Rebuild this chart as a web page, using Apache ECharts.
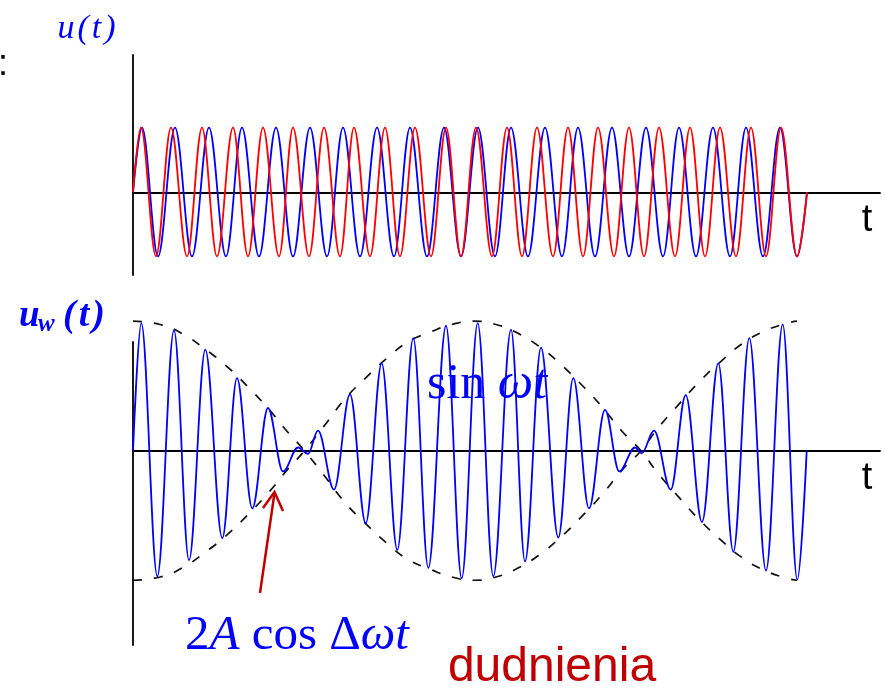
<!DOCTYPE html>
<html><head><meta charset="utf-8">
<script src="https://cdn.jsdelivr.net/npm/echarts@6/dist/echarts.min.js"></script>
<style>html,body{margin:0;padding:0;background:#fff;}#c{width:885px;height:691px;}</style>
</head><body><div id="c"></div>
<script>
// Time is measured from the vertical axis; amplitude in units of A.
// Top panel u(t): extrema (peaks / troughs).
const redT = [0, 8, 23, 38, 54, 69, 84, 100, 115, 130, 146, 160, 176, 191, 207, 221, 237, 252, 267, 282, 298, 313, 328, 343, 359, 374, 389, 404, 420, 435, 450, 465, 481, 496, 511, 526, 542, 557, 572, 587, 603, 618, 633, 648, 664, 674];
const redV = [0, 1, -0.99, 1, -0.99, 1, -0.99, 1, -0.99, 1, -0.99, 1, -0.99, 1, -0.99, 1, -0.99, 1, -0.99, 1, -0.99, 1, -0.99, 1, -0.99, 1, -0.99, 1, -0.99, 1, -0.99, 1, -0.99, 1, -0.99, 1, -0.99, 1, -0.99, 1, -0.99, 1, -0.99, 1, -0.99, 0];
const blueT = [0, 9, 25, 42, 59, 76, 93, 109, 126, 143, 160, 177, 194, 210, 227, 244, 261, 277, 294, 311, 328, 345, 362, 378, 395, 412, 429, 445, 462, 479, 496, 513, 530, 546, 563, 580, 597, 613, 630, 647, 664, 674];
const blueV = [0, 1, -0.99, 1, -0.99, 1, -0.99, 1, -0.99, 1, -0.99, 1, -0.99, 1, -0.99, 1, -0.99, 1, -0.99, 1, -0.99, 1, -0.99, 1, -0.99, 1, -0.99, 1, -0.99, 1, -0.99, 1, -0.99, 1, -0.99, 1, -0.99, 1, -0.99, 1, -0.99, 0];
// Bottom panel u_w(t): extrema
const beatT = [0, 8.3, 24.3, 41, 56, 72.3, 89.3, 104, 119.3, 135, 150, 165, 175, 185, 201, 217, 232.7, 248.7, 264.3, 280.3, 295.3, 313, 328.7, 344.7, 360.3, 378, 392, 408, 425.3, 440.3, 456, 472, 486.3, 502, 508.7, 521, 537.7, 552.7, 569, 585.3, 600.3, 616.3, 633, 649.7, 664.3, 673.7];
const beatV = [0, 1.97, -1.94, 1.86, -1.69, 1.56, -1.35, 1.12, -0.89, 0.66, -0.32, 0.05, -0.05, 0.31, -0.60, 0.87, -1.12, 1.35, -1.53, 1.74, -1.81, 1.93, -1.97, 1.97, -1.94, 1.87, -1.71, 1.59, -1.34, 1.12, -0.89, 0.63, -0.32, 0.05, -0.04, 0.31, -0.60, 0.86, -1.10, 1.35, -1.56, 1.74, -1.85, 1.95, -1.99, 0];
// Envelope 2A cos(Δω t)
const envT = [0, 27, 49, 72, 94, 116, 137, 154, 171.5, 191, 212, 233, 254, 275, 297, 319, 341, 363, 384, 407, 428, 451, 470, 489, 508, 525, 546, 566, 588, 610, 632, 654, 664];
const envV = [2.0, 1.95, 1.81, 1.57, 1.30, 0.97, 0.62, 0.30, 0, -0.38, -0.8, -1.13, -1.43, -1.68, -1.83, -1.95, -2.0, -1.95, -1.82, -1.6, -1.33, -0.98, -0.66, -0.30, 0, 0.35, 0.72, 1.06, 1.38, 1.66, 1.85, 1.97, 2.0];

const pairs = (t, v, s) => t.map((x, i) => [x, s * v[i]]);
const BLUE = '#0000ff', RED = '#ff0000', DARKRED = '#c00000';
const chart = echarts.init(document.getElementById('c'), null, {renderer: 'canvas'});
const axisCommon = {
  axisTick: {show: false}, axisLabel: {show: false}, splitLine: {show: false},
  axisLine: {show: true, onZero: true, lineStyle: {color: '#000', width: 1.8}}
};
const waveSeries = (name, data, color, xi) => ({
  name, type: 'line', xAxisIndex: xi, yAxisIndex: xi, data, showSymbol: false, symbol: 'none',
  smooth: 0.36, smoothMonotone: 'x', clip: false,
  lineStyle: {color, width: 1.8}, z: 3
});
const envSeries = (name, data) => ({
  name, type: 'line', xAxisIndex: 1, yAxisIndex: 1, data, showSymbol: false, symbol: 'none',
  smooth: 0.5, clip: false, lineStyle: {color: '#111', width: 1.7, type: [9, 12]}, z: 2
});
const serif = 'Liberation Serif';
const mathRich = (size, bold) => ({
  r: {fontFamily: serif, fontSize: size, fill: BLUE, fontWeight: bold ? 'bold' : 'normal'},
  i: {fontFamily: serif, fontSize: size, fontStyle: 'italic', fill: BLUE, fontWeight: bold ? 'bold' : 'normal'},
  p: {fontFamily: serif, fontSize: size, fontStyle: 'italic', fill: BLUE, fontWeight: bold ? 'bold' : 'normal', padding: [0, 3, 0, 3]}
});
chart.setOption({
  animation: false,
  backgroundColor: '#fff',
  grid: [
    {left: 133, top: 55, width: 747, height: 220},
    {left: 133, top: 342, width: 747, height: 303}
  ],
  xAxis: [
    Object.assign({type: 'value', gridIndex: 0, min: 0, max: 747}, axisCommon),
    Object.assign({type: 'value', gridIndex: 1, min: 0, max: 747}, axisCommon)
  ],
  yAxis: [
    Object.assign({type: 'value', gridIndex: 0, min: -1.277, max: 2.12}, axisCommon),
    Object.assign({type: 'value', gridIndex: 1, min: -3.0, max: 1.679}, axisCommon)
  ],
  series: [
    waveSeries('u2', pairs(blueT, blueV, 1), BLUE, 0),
    waveSeries('u1', pairs(redT, redV, 1), RED, 0),
    envSeries('env+', pairs(envT, envV, 1)),
    envSeries('env-', pairs(envT, envV, -1)),
    waveSeries('uw', pairs(beatT, beatV, 1), BLUE, 1)
  ],
  graphic: [
    {type: 'text', x: -2, y: 65, style: {text: ':', fontFamily: 'Liberation Sans', fontSize: 36, fill: '#000', align: 'left', verticalAlign: 'middle'}},
    {type: 'text', x: 88, y: 29, style: {text: '{i|u}{p|(}{i|t}{p|)}', fill: BLUE, fontSize: 34, fontFamily: serif, align: 'center', verticalAlign: 'middle', rich: mathRich(34, false)}},
    {type: 'text', x: 19, y: 316, style: {text: 'u', fontFamily: serif, fontStyle: 'italic', fontWeight: 'bold', fontSize: 37, fill: BLUE, align: 'left', verticalAlign: 'middle'}},
    {type: 'text', x: 38, y: 325, style: {text: 'w', fontFamily: serif, fontStyle: 'italic', fontWeight: 'bold', fontSize: 25, fill: BLUE, align: 'left', verticalAlign: 'middle'}},
    {type: 'text', x: 84, y: 316, style: {text: '{p|(}{i|t}{p|)}', fill: BLUE, fontSize: 38, fontFamily: serif, align: 'center', verticalAlign: 'middle', rich: mathRich(38, true)}},
    {type: 'text', x: 867, y: 221, style: {text: 't', fontFamily: 'Liberation Sans', fontSize: 38, fill: '#000', align: 'center', verticalAlign: 'middle'}},
    {type: 'text', x: 867, y: 479, style: {text: 't', fontFamily: 'Liberation Sans', fontSize: 38, fill: '#000', align: 'center', verticalAlign: 'middle'}},
    {type: 'text', x: 487, y: 385, style: {text: '{r|sin }{i|ωt}', fill: BLUE, fontSize: 50, fontFamily: serif, align: 'center', verticalAlign: 'middle', rich: mathRich(50, false)}},
    {type: 'text', x: 297, y: 636, style: {text: '{r|2}{i|A}{r| cos Δ}{i|ωt}', fill: BLUE, fontSize: 49, fontFamily: serif, align: 'center', verticalAlign: 'middle', rich: mathRich(49, false)}},
    {type: 'text', x: 552, y: 668, style: {text: 'dudnienia', fontFamily: 'Liberation Sans', fontSize: 48, fill: DARKRED, align: 'center', verticalAlign: 'middle'}},
    {type: 'polyline', shape: {points: [[260, 593], [274.5, 493]]}, style: {stroke: DARKRED, lineWidth: 2.5, fill: null}},
    {type: 'polyline', shape: {points: [[263, 508], [274.5, 492], [283, 511]]}, style: {stroke: DARKRED, lineWidth: 2.5, fill: null}}
  ]
});
</script></body></html>
